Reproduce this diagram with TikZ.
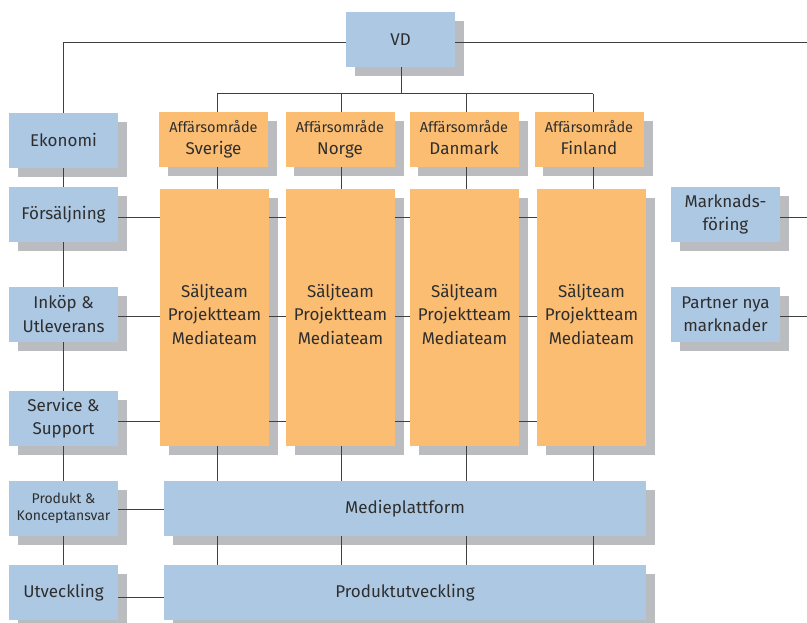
\documentclass[tikz,border=0pt]{standalone}
\usepackage{fontspec}
\setmainfont{Fira Sans}
\definecolor{boxblue}{HTML}{ADC8E3}
\definecolor{boxorange}{HTML}{FBBD72}
\definecolor{shadowc}{HTML}{BBBCC0}
\definecolor{linec}{HTML}{404040}
\definecolor{txt}{HTML}{2E2E2E}
\pgfdeclarelayer{shadowlayer}
\pgfdeclarelayer{linelayer}
\pgfsetlayers{shadowlayer,linelayer,main}
\tikzset{
  box/.style={rectangle, inner sep=0pt, minimum width=109pt, minimum height=54.7pt,
    text=txt, align=center, font=\fontsize{17}{23.5}\selectfont},
  bluebox/.style={box, fill=boxblue},
  orangebox/.style={box, fill=boxorange},
  bigbox/.style={orangebox, minimum height=256.7pt},
  widebox/.style={bluebox, minimum width=482pt},
  smalltxt/.style={font=\fontsize{14}{16.7}\selectfont},
  conn/.style={draw=linec, line width=1pt},
}
\newcommand{\areatxt}[1]{{\fontsize{14.5}{17}\selectfont Affärsområde}\\[-1pt]{\fontsize{17}{21}\selectfont #1\vphantom{Sg}}}
\newcommand{\teamtxt}{Säljteam\\Projektteam\\Mediateam\rule[-6pt]{0pt}{6pt}}
\begin{document}
\begin{tikzpicture}[x=1pt,y=-1pt]
\useasboundingbox (0,0) rectangle (807,623);
% boxes
\node[bluebox] (vd) at (400.5,39.3) {VD};
\node[bluebox] (eko) at (63.5,140.3) {Ekonomi};
\node[bluebox] (fors) at (63.5,214.3) {Försäljning};
\node[bluebox] (inkop) at (63.5,314.3) {Inköp \&\\Utleverans};
\node[bluebox] (serv) at (63.5,418.3) {Service \&\\Support};
\node[bluebox, smalltxt] (prod) at (63.5,508.3) {Produkt \&\\Konceptansvar};
\node[bluebox] (utv) at (63.5,592.3) {Utveckling};
\node[orangebox] (af1) at (213.5,139.3) {\areatxt{Sverige}};
\node[orangebox] (af2) at (340,139.3) {\areatxt{Norge}};
\node[orangebox] (af3) at (464,139.3) {\areatxt{Danmark}};
\node[orangebox] (af4) at (589,139.3) {\areatxt{Finland}};
\node[bigbox] (big1) at (214.5,317.3) {\teamtxt};
\node[bigbox] (big2) at (340.5,317.3) {\teamtxt};
\node[bigbox] (big3) at (464.5,317.3) {\teamtxt};
\node[bigbox] (big4) at (591.5,317.3) {\teamtxt};
\node[widebox] (medie) at (405,508.3) {Medieplattform};
\node[widebox] (produt) at (405,592.3) {Produktutveckling};
\node[bluebox] (mark) at (725.5,214.3) {Marknads-\\föring};
\node[bluebox] (partner) at (725.5,314.3) {Partner nya\\marknader};
% shadows
\begin{pgfonlayer}{shadowlayer}
\foreach \n in {vd,eko,fors,inkop,serv,prod,utv,af1,af2,af3,af4,big1,big2,big3,big4,medie,produt,mark,partner}
  \fill[shadowc] ([shift={(9,9)}]\n.north west) rectangle ([shift={(9,9)}]\n.south east);
\end{pgfonlayer}
% connectors
\coordinate (ltop) at (63,42.7);
\coordinate (rtop) at (807,42.7);
\coordinate (vdbar) at (401,94);
\coordinate (c1) at (217,94);
\coordinate (c2) at (341,94);
\coordinate (c3) at (466,94);
\coordinate (c4) at (593,94);
\coordinate (mr) at (807,217.7);
\coordinate (pr) at (807,316);
\begin{pgfonlayer}{linelayer}
\draw[conn] (ltop) -- (rtop);
\draw[conn] (ltop) -- (ltop |- utv.north);
\draw[conn] (vdbar |- vd.south) -- (vdbar);
\draw[conn] (c1) -- (c4);
\foreach \c in {c1,c2,c3,c4} \draw[conn] (\c) -- (\c |- produt.north);
\draw[conn] ([yshift=-3.7pt]fors.east) -- ([yshift=-3.7pt]fors.east -| c4);
\draw[conn] ([yshift=-1.7pt]inkop.east) -- ([yshift=-1.7pt]inkop.east -| c4);
\draw[conn] ([yshift=-3pt]serv.east) -- ([yshift=-3pt]serv.east -| c4);
\draw[conn] ([yshift=-1pt]prod.east) -- ([yshift=-1pt]prod.east -| medie.west);
\draw[conn] ([yshift=-4.7pt]utv.east) -- ([yshift=-4.7pt]utv.east -| produt.west);
\draw[conn] (mark.east |- mr) -- (mr);
\draw[conn] (partner.east |- pr) -- (pr);
\end{pgfonlayer}
\end{tikzpicture}
\end{document}
